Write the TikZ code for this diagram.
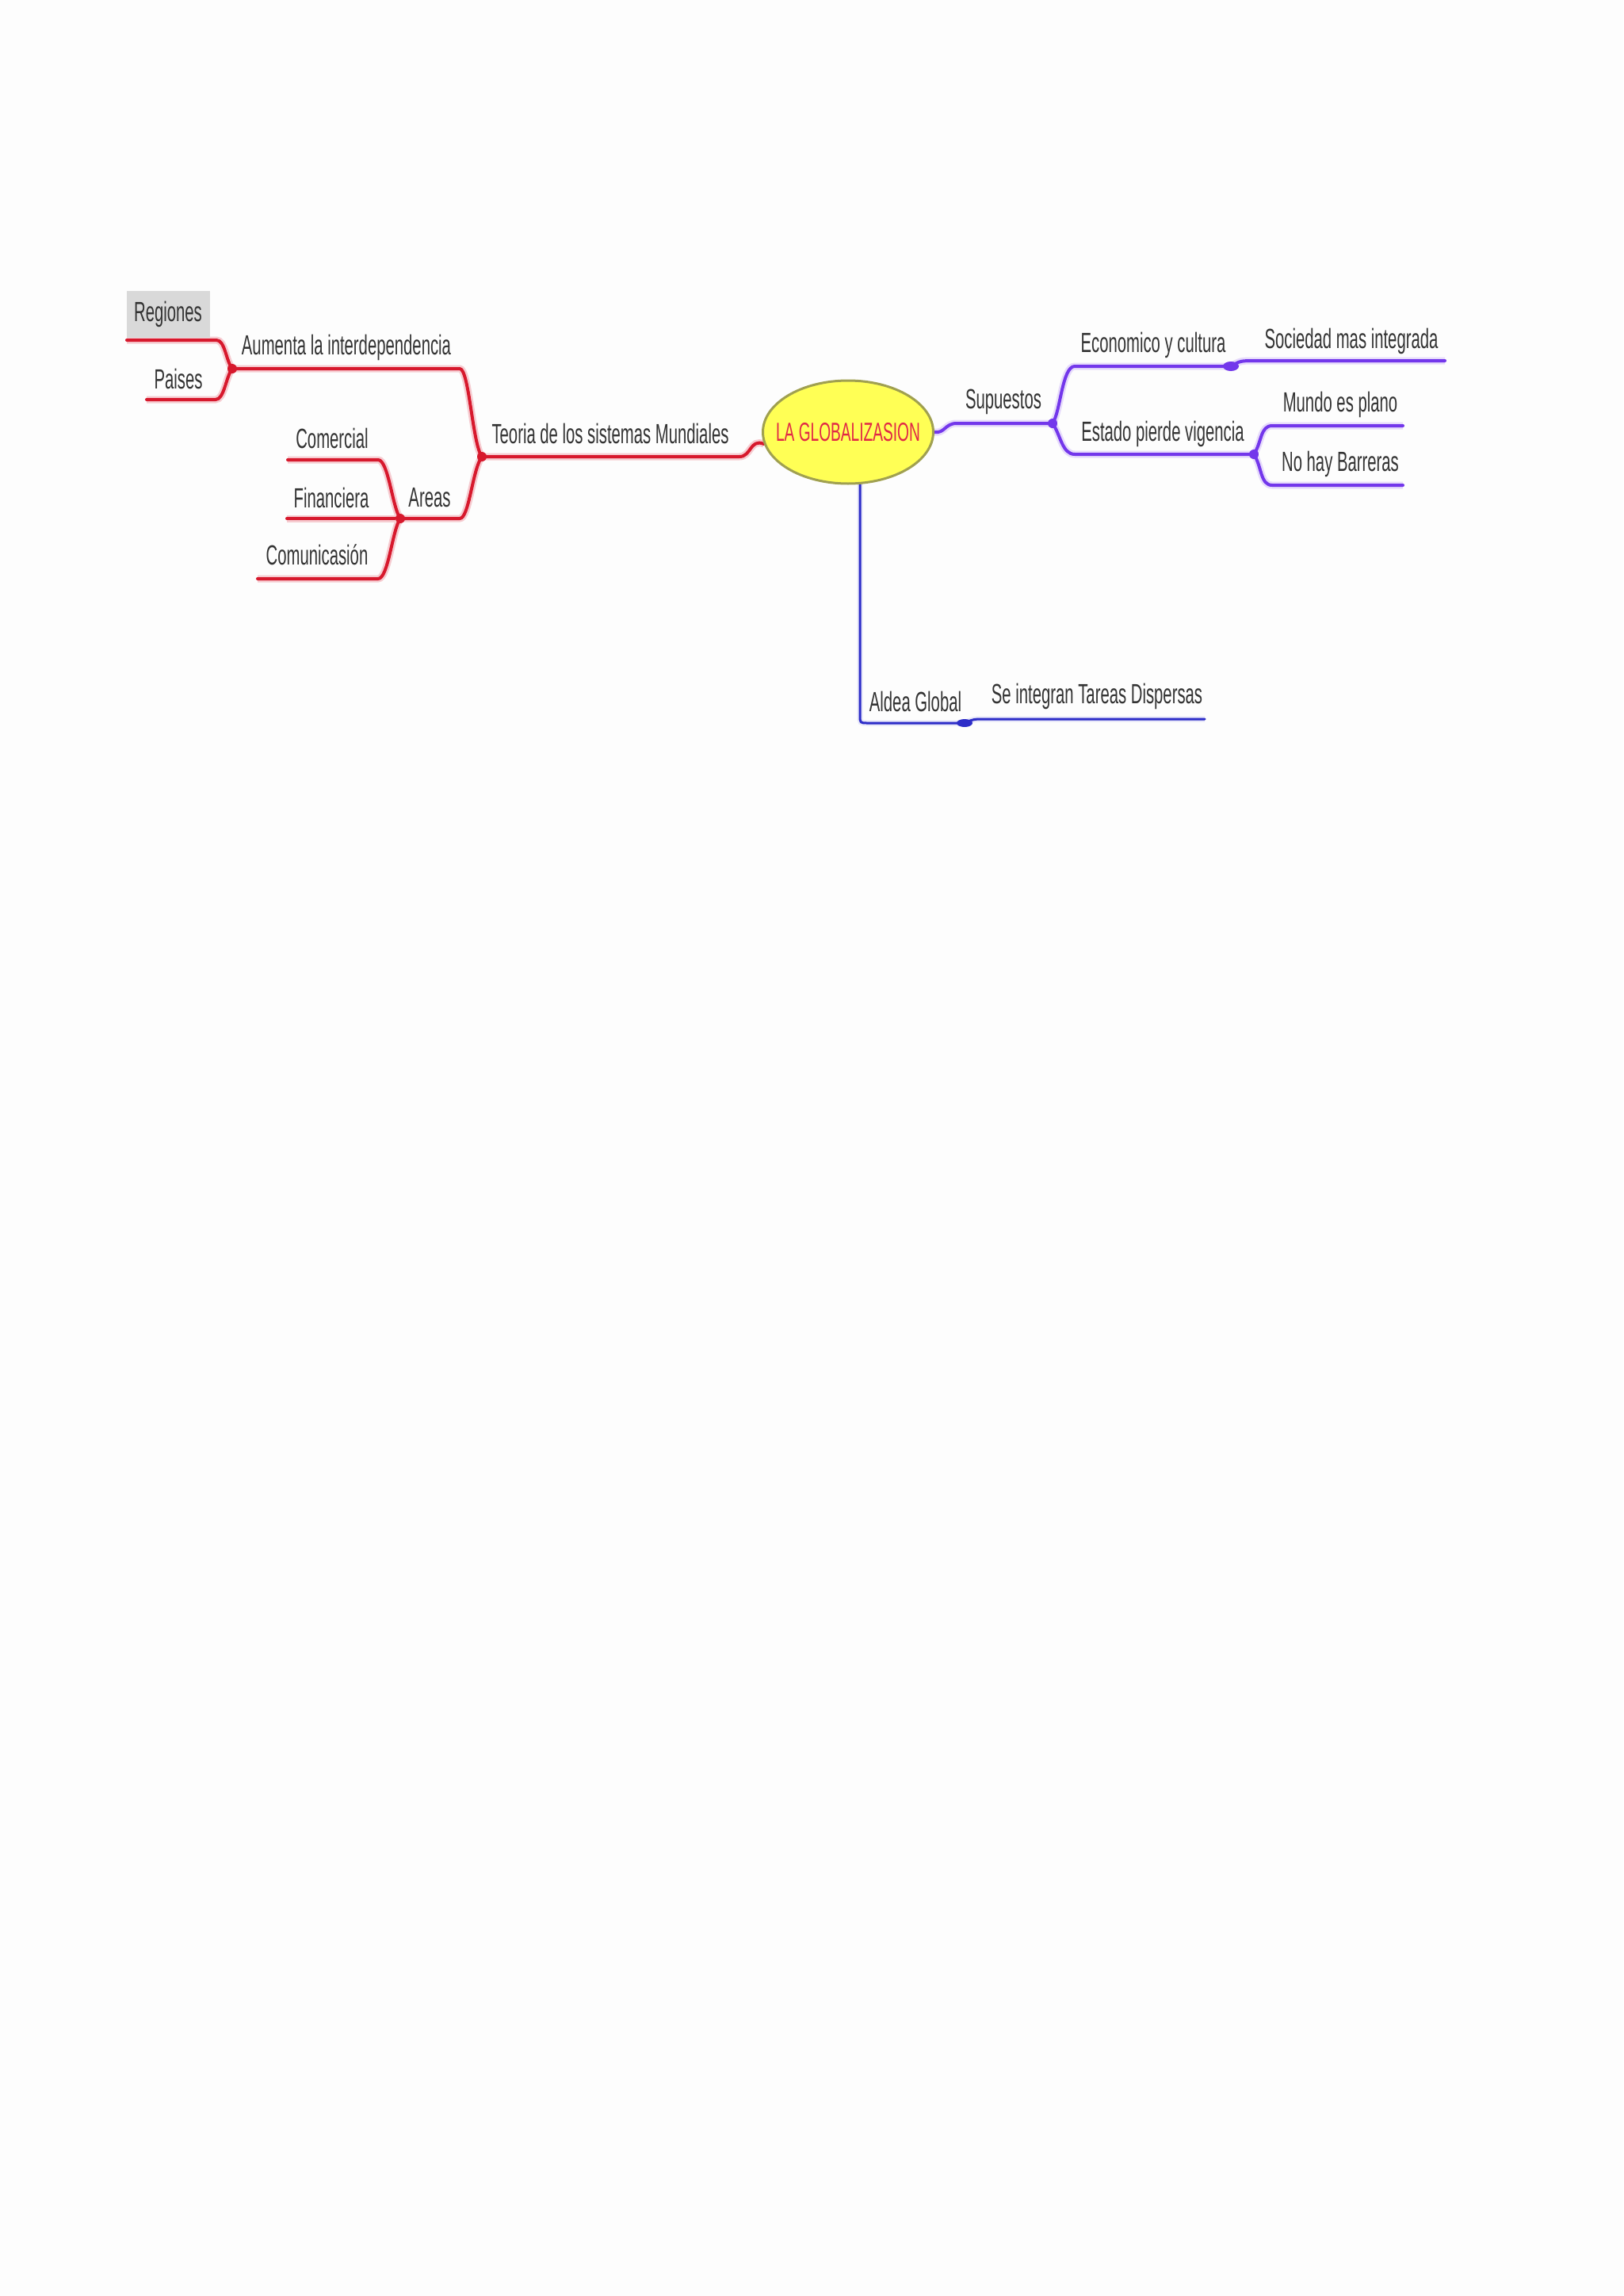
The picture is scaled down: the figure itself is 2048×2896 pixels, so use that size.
\documentclass[tikz,border=0pt]{standalone}
\usepackage{fontspec}
\usetikzlibrary{shapes.geometric}
\newfontfamily\mapfont{Liberation Sans}[FakeStretch=0.58]
\definecolor{lred}{RGB}{215,25,45}
\definecolor{lpur}{RGB}{115,55,235}
\definecolor{lblu}{RGB}{45,45,200}
\definecolor{ctxt}{RGB}{225,40,70}
\definecolor{ellfill}{RGB}{255,255,85}
\definecolor{elldraw}{RGB}{160,160,80}
\definecolor{pagebg}{RGB}{253,253,253}
\pgfdeclarelayer{bg}
\pgfdeclarelayer{lines}
\pgfsetlayers{bg,lines,main}
\tikzset{
  txt/.style={font={\mapfont\fontsize{35}{40}\selectfont}, text=black!80, inner sep=0pt},
  redl/.style={draw=lred, line width=4pt, line cap=round, line join=round,
    preaction={draw=lred!22, line width=9pt}},
  purl/.style={draw=lpur, line width=4pt, line cap=round, line join=round,
    preaction={draw=lpur!18, line width=9pt}},
  blul/.style={draw=lblu, line width=3pt, line cap=round, line join=round,
    preaction={draw=lblu!12, line width=7pt}},
  rjun/.style={fill=lred},
  pjun/.style={fill=lpur},
  bjun/.style={fill=lblu}
}
\begin{document}
\begin{tikzpicture}[x=1pt,y=-1pt]
\begin{pgfonlayer}{bg}
\fill[pagebg] (0,0) rectangle (2048,2896);
\end{pgfonlayer}
\useasboundingbox (0,0) rectangle (2048,2896);

% central node
\node[ellipse, fill=ellfill, draw=elldraw, line width=3pt, minimum width=215pt, minimum height=130pt, inner sep=0pt] (glob) at (1070,545) {};
\node[inner sep=0pt, font={\mapfont\fontsize{33}{38}\selectfont}, text=ctxt] (globtxt) at (glob.center) {LA GLOBALIZASION};

% junctions and line ends (left, red)
\coordinate (jA) at (293,465);
\coordinate (jT) at (608,576);
\coordinate (jAr) at (505,654);
\coordinate (regL) at (160,429);
\coordinate (regR) at (273,429);
\coordinate (paiL) at (185,504);
\coordinate (paiR) at (272,504);
\coordinate (aumR) at (580,465);
\coordinate (teoR) at (933,576);
\coordinate (areR) at (580,654);
\coordinate (comL) at (363,580);
\coordinate (comR) at (477,580);
\coordinate (finL) at (362,654);
\coordinate (cmuL) at (325,730);
\coordinate (cmuR) at (477,730);
% right, purple
\coordinate (supL) at (1207,534);
\coordinate (jS) at (1328,534);
\coordinate (ecoL) at (1356,462);
\coordinate (jE) at (1553,462);
\coordinate (socL) at (1585,455);
\coordinate (socR) at (1823,455);
\coordinate (estL) at (1356,573);
\coordinate (jEs) at (1582,573);
\coordinate (munL) at (1605,537);
\coordinate (munR) at (1770,537);
\coordinate (nohL) at (1605,612);
\coordinate (nohR) at (1770,612);
% bottom, blue
\coordinate (aldTop) at (1085,600);
\coordinate (aldC) at (1085,902);
\coordinate (aldB) at (1095,912);
\coordinate (jAl) at (1217,912);
\coordinate (seL) at (1245,907);
\coordinate (seR) at (1520,907);

\begin{pgfonlayer}{lines}
% red connectors
\draw[redl] (jT) -- (teoR) .. controls (948,576) and (946,553) .. (glob.188);
\draw[redl] (jA) -- (aumR) .. controls (592,465) and (596,560) .. (jT);
\draw[redl] (jAr) -- (areR) .. controls (592,654) and (596,592) .. (jT);
\draw[redl] (regL) -- (regR) .. controls (284,429) and (285,455) .. (jA);
\draw[redl] (paiL) -- (paiR) .. controls (283,504) and (285,475) .. (jA);
\draw[redl] (comL) -- (comR) .. controls (490,580) and (495,640) .. (jAr);
\draw[redl] (finL) -- (jAr);
\draw[redl] (cmuL) -- (cmuR) .. controls (490,730) and (495,668) .. (jAr);

% purple connectors
\draw[purl] (glob.east) .. controls (1192,547) and (1192,534) .. (supL) -- (jS);
\draw[purl] (jS) .. controls (1338,520) and (1340,462) .. (ecoL) -- (jE);
\draw[purl] (jE) .. controls (1565,455) .. (socL) -- (socR);
\draw[purl] (jS) .. controls (1338,548) and (1340,573) .. (estL) -- (jEs);
\draw[purl] (jEs) .. controls (1592,558) and (1590,537) .. (munL) -- (munR);
\draw[purl] (jEs) .. controls (1592,588) and (1590,612) .. (nohL) -- (nohR);

% blue connectors
\draw[blul] (aldTop) -- (aldC) .. controls (1085,912) .. (aldB) -- (jAl);
\draw[blul] (jAl) .. controls (1228,907) .. (seL) -- (seR);

% junction blobs
\foreach \j in {jA,jT,jAr} \fill[rjun] (\j) circle (6pt);
\foreach \j in {jS,jEs} \fill[pjun] (\j) circle (6pt);
\fill[pjun] (jE) ellipse (10pt and 6pt);
\fill[bjun] (jAl) ellipse (10pt and 5pt);
\end{pgfonlayer}

% texts
\node[txt, fill=black!15, minimum width=105pt, minimum height=59pt] (reg) at (212,396) {Regiones};
\node[txt] (pai) at (225,478) {Paises};
\node[txt] (aum) at (437,438) {Aumenta la interdependencia};
\node[txt] (teo) at (770,547) {Teoria de los sistemas Mundiales};
\node[txt] (are) at (542,628) {Areas};
\node[txt] (com) at (419,553) {Comercial};
\node[txt] (fin) at (418,628) {Financiera};
\node[txt] (cmu) at (400,700) {Comunicasión};
\node[txt] (sup) at (1266,507) {Supuestos};
\node[txt] (eco) at (1455,435) {Economico y cultura};
\node[txt] (est) at (1467,547) {Estado pierde vigencia};
\node[txt] (soc) at (1705,430) {Sociedad mas integrada};
\node[txt] (mun) at (1691,510) {Mundo es plano};
\node[txt] (noh) at (1691,585) {No hay Barreras};
\node[txt] (ald) at (1155,885) {Aldea Global};
\node[txt] (sei) at (1384,878) {Se integran Tareas Dispersas};
\end{tikzpicture}
\end{document}
